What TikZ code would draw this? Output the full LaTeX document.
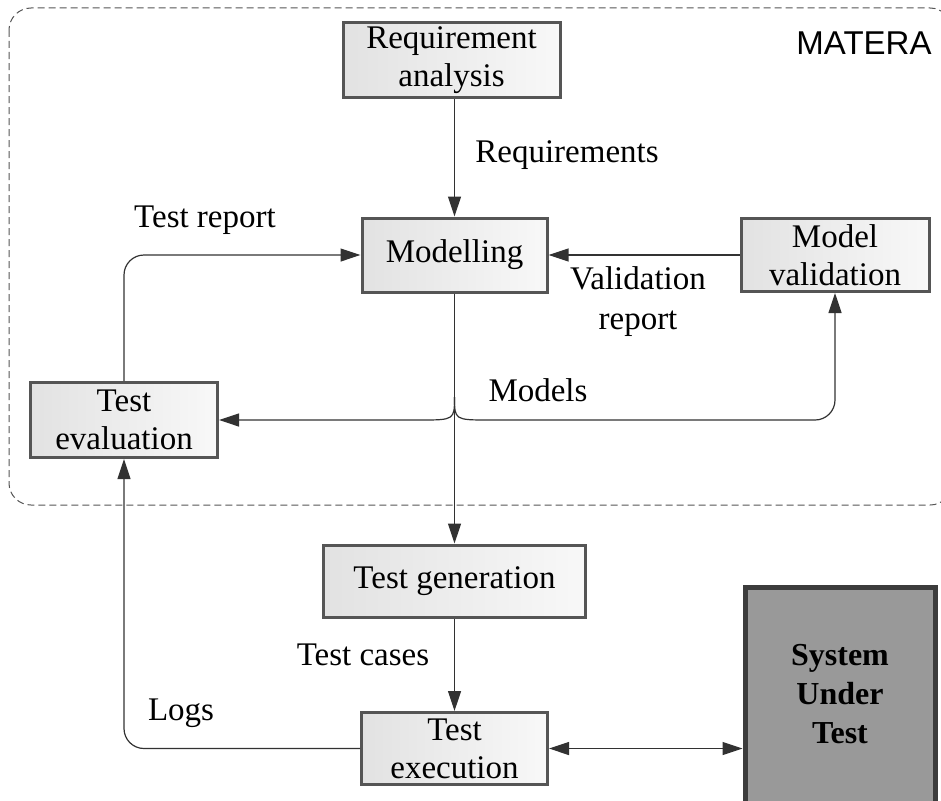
\documentclass[tikz,border=0pt]{standalone}
\usepackage{fontspec}
\setmainfont{Liberation Serif}
\newfontfamily\arialfont{Liberation Sans}
\usetikzlibrary{arrows.meta}

\definecolor{boxLine}{RGB}{85, 85, 85}
\definecolor{boxLeft}{RGB}{226, 226, 226}
\definecolor{boxRight}{RGB}{248, 248, 248}
\definecolor{sutFill}{RGB}{153, 153, 153}
\definecolor{sutLine}{RGB}{60, 60, 60}
\definecolor{linkLine}{RGB}{50, 50, 50}

\tikzset{
  stepbox/.style={draw=boxLine, line width=3pt, left color=boxLeft, right color=boxRight,
    align=center, inner sep=0pt, font=\fontsize{33}{38}\selectfont},
  sutbox/.style={draw=sutLine, line width=5pt, fill=sutFill, minimum width=190pt, minimum height=240pt},
  suttext/.style={align=center, font=\fontsize{32}{39}\selectfont\bfseries},
  tip/.tip={Triangle[length=20pt,width=13pt]},
  link/.style={draw=linkLine, line width=1.2pt, -tip},
  lbl/.style={align=center, font=\fontsize{33}{40}\selectfont},
}

\begin{document}
\begin{tikzpicture}[x=1pt,y=1pt,yscale=-1,xscale=1]
\useasboundingbox (0,0) rectangle (941,800);

% --- MATERA FRAME ---
\draw [boxLine, line width=1pt, dash pattern=on 7pt off 4pt, rounded corners=22pt] (9,8) rectangle (952,505);
\node (matera) at (864,43) {\arialfont\fontsize{33}{38}\selectfont MATERA};

% --- BOXES ---
\node[stepbox, minimum width=217pt, minimum height=75pt] (reqana) at (451.5,60) {Requirement\\analysis};
\node[stepbox, minimum width=185pt, minimum height=74pt] (modelling) at (454.5,255) {Modelling};
\node[stepbox, minimum width=188pt, minimum height=73pt] (modval) at (835,255) {Model\\validation};
\node[stepbox, minimum width=187pt, minimum height=75pt] (testeval) at (124,420) {Test\\evaluation};
\node[stepbox, minimum width=262pt, minimum height=72pt] (testgen) at (454.5,581) {Test generation};
\node[stepbox, minimum width=186pt, minimum height=72pt] (testexec) at (454.5,748.5) {Test\\execution};

% System under test (runs off the bottom)
\node[sutbox] (sut) at (840,707) {};
\node[suttext] (suttext) at (840,694) {System\\Under\\Test};

% --- CONNECTORS ---
\coordinate (split) at (454.5,397);
\coordinate (bus) at (454.5,420);

\draw[link] (reqana.south -| modelling.north) -- (modelling.north);
\draw[link] (modval) -- (modelling);
\draw[link] (modelling) -- (testgen);
\draw[link] (split) .. controls (bus) .. ([xshift=-35pt]bus) -- (testeval.east |- bus);
\draw[link] (split) .. controls (bus) .. ([xshift=35pt]bus) [rounded corners=20pt] -- (modval.south |- bus) -- (modval.south);
\draw[link, rounded corners=20pt] (testeval.north) |- (modelling.west);
\draw[link, rounded corners=20pt] (testexec.west) -| (testeval.south);
\draw[link] (testgen) -- (testexec);
\draw[link, tip-tip] (testexec.east) -- (sut.west |- testexec.east);

% --- LABELS ---
\node[lbl] (reqlbl) at (567,155) {Requirements};
\node[lbl] (vallbl) at (638,302) {Validation\\report};
\node[lbl] (replbl) at (205,220) {Test report};
\node[lbl] (modlbl) at (538,390) {Models};
\node[lbl] (caselbl) at (363,655) {Test cases};
\node[lbl] (loglbl) at (181,713) {Logs};

\end{tikzpicture}
\end{document}
